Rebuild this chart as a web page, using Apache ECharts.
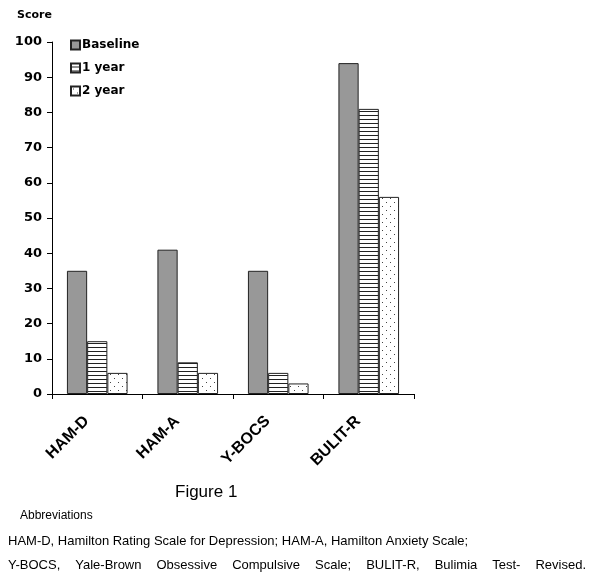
<!DOCTYPE html>
<html><head><meta charset="utf-8">
<script src="https://cdn.jsdelivr.net/npm/echarts@6/dist/echarts.min.js"></script>
<style>html,body{margin:0;padding:0;background:#fff}#c{width:600px;height:584px}</style>
</head><body><div id="c"></div>
<script>
var categories = ['HAM-D', 'HAM-A', 'Y-BOCS', 'BULIT-R'];
var seriesNames = ['Baseline', '1 year', '2 year'];
var baseline = [35, 41, 35, 94];
var year1 = [15, 9, 6, 81];
var year2 = [6, 6, 3, 56];
var yTicks = [0, 10, 20, 30, 40, 50, 60, 70, 80, 90, 100];
var captionTitle = 'Figure 1';
var abbrevTitle = 'Abbreviations';
var abbrevLine1 = 'HAM-D, Hamilton Rating Scale for Depression; HAM-A, Hamilton Anxiety Scale;';
var abbrevLine2 = 'Y-BOCS, Yale-Brown Obsessive Compulsive Scale; BULIT-R, Bulimia Test- Revised.';

function stripePattern() {
  var c = document.createElement('canvas'); c.width = 4; c.height = 4;
  var g = c.getContext('2d');
  g.fillStyle = '#fff'; g.fillRect(0, 0, 4, 4);
  g.fillStyle = '#222'; g.fillRect(0, 3, 4, 1);
  return c;
}
function dotPattern() {
  var c = document.createElement('canvas'); c.width = 8; c.height = 8;
  var g = c.getContext('2d');
  g.fillStyle = '#fff'; g.fillRect(0, 0, 8, 8);
  g.fillStyle = '#444';
  g.fillRect(2, 2, 1, 1); g.fillRect(6, 6, 1, 1);
  return c;
}

var capFont = '13px Liberation Sans, Arial, sans-serif';
// justified second line: place words so the line spans a fixed width
function justifiedWords(text, x0, x1, top) {
  var mc = document.createElement('canvas').getContext('2d');
  mc.font = capFont;
  var words = text.split(' ');
  var total = 0;
  words.forEach(function (w) { total += mc.measureText(w).width; });
  var gap = (x1 - x0 - total) / (words.length - 1);
  var x = x0, out = [];
  words.forEach(function (w) {
    out.push({ type: 'text', left: x, top: top, style: { text: w, font: capFont, fill: '#000' } });
    x += mc.measureText(w).width + gap;
  });
  return out;
}

var chart = echarts.init(document.getElementById('c'));
var lblFont = 'Liberation Sans, Arial, sans-serif';
var djFont = 'DejaVu Sans, Verdana, sans-serif';
var graphics = [
  { type: 'text', left: 175, top: 484, style: { text: captionTitle, font: '17px Liberation Sans, Arial, sans-serif', fill: '#000' } },
  { type: 'text', left: 20, top: 510, style: { text: abbrevTitle, font: '12px Liberation Sans, Arial, sans-serif', fill: '#000' } },
  { type: 'text', left: 8, top: 535, style: { text: abbrevLine1, font: capFont, fill: '#000' } }
].concat(justifiedWords(abbrevLine2, 8, 586, 559));

chart.setOption({
  animation: false,
  backgroundColor: '#fff',
  grid: { left: 52, top: 42, right: 186, bottom: 190, containLabel: false },
  legend: {
    orient: 'vertical', left: 65, top: 34, itemGap: 11,
    itemWidth: 9, itemHeight: 9, icon: 'rect',
    textStyle: { fontFamily: djFont, fontWeight: 'bold', fontSize: 12, color: '#000', padding: [0, 0, 0, -3] },
    data: seriesNames
  },
  xAxis: {
    type: 'category', data: categories, boundaryGap: true,
    axisLine: { lineStyle: { color: '#000', width: 1 } },
    axisTick: { show: true, length: 5, lineStyle: { color: '#000' } },
    axisLabel: { rotate: 45, margin: 14, padding: [0, 15, 0, 0], fontFamily: lblFont, fontWeight: 'bold', fontSize: 16, color: '#000' }
  },
  yAxis: {
    type: 'value', min: 0, max: 100, interval: 10,
    name: 'Score', nameLocation: 'end', nameGap: 21,
    nameTextStyle: { fontFamily: djFont, fontWeight: 'bold', fontSize: 11, color: '#000', align: 'right', padding: [0, 0, 0, 0] },
    axisLine: { show: true, lineStyle: { color: '#000', width: 1 } },
    axisTick: { show: true, length: 5, lineStyle: { color: '#000' } },
    splitLine: { show: false },
    axisLabel: { margin: 10, fontFamily: djFont, fontWeight: 'bold', fontSize: 13, color: '#000',
      formatter: function (v) { return yTicks.indexOf(v) >= 0 ? String(v) : ''; } }
  },
  series: [
    { name: seriesNames[0], type: 'bar', data: baseline, barGap: '0%', barCategoryGap: '33%',
      itemStyle: { color: '#989898', borderColor: '#222', borderWidth: 1 } },
    { name: seriesNames[1], type: 'bar', data: year1, barGap: '0%', barCategoryGap: '33%',
      itemStyle: { color: { image: stripePattern(), repeat: 'repeat' }, borderColor: '#222', borderWidth: 1 } },
    { name: seriesNames[2], type: 'bar', data: year2, barGap: '0%', barCategoryGap: '33%',
      itemStyle: { color: { image: dotPattern(), repeat: 'repeat' }, borderColor: '#222', borderWidth: 1 } }
  ],
  graphic: graphics
});
</script></body></html>
